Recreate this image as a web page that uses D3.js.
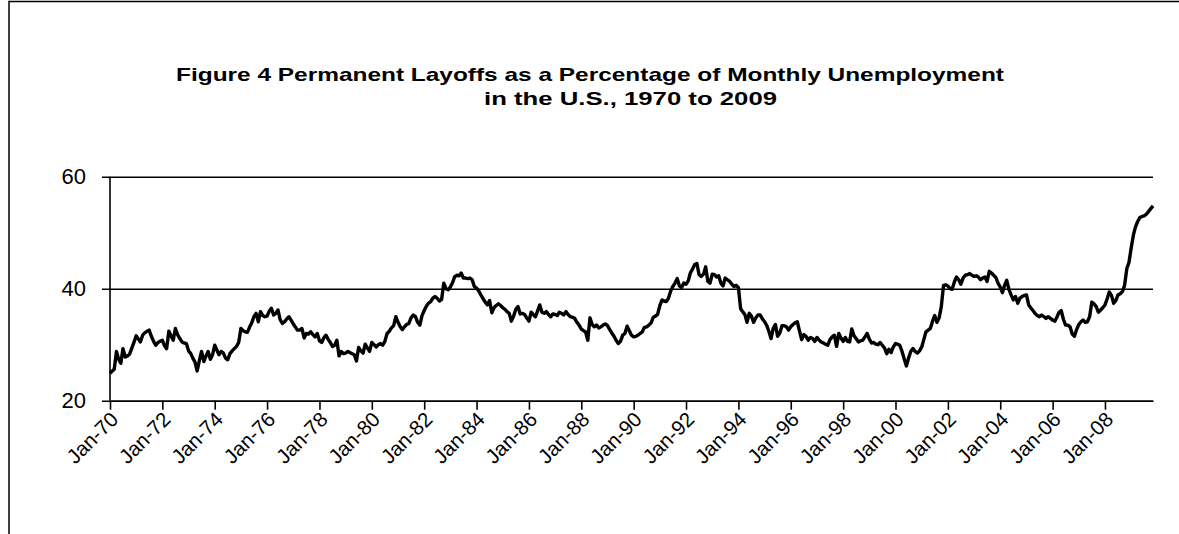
<!DOCTYPE html>
<html>
<head>
<meta charset="utf-8">
<script src="https://cdn.jsdelivr.net/npm/d3@7"></script>
<style>
  body { margin: 0; background: #fff; }
  svg { display: block; font-family: "Liberation Sans", Arial, sans-serif; }
</style>
</head>
<body>
<svg id="chart" width="1179" height="534"></svg>
<script>
// monthly share of permanent layoffs, Jan 1970 onwards
var y1970 = [24.9,25.3,25.6,28.8,27.4,26.7,29.3,27.8,28.0,28.3,29.4,30.4];
var y1971 = [31.6,31.0,30.5,31.7,32.1,32.4,32.6,31.5,30.6,29.9,30.4,30.6];
var y1972 = [30.8,29.8,29.3,32.4,31.6,30.8,32.9,31.8,31.1,30.5,30.3,30.2];
var y1973 = [28.9,28.4,27.6,26.9,25.3,27.2,28.8,27.0,28.0,28.8,27.4,28.2];
var y1974 = [29.9,29.0,28.2,28.8,28.5,27.6,27.3,28.4,28.9,29.3,29.7,30.4];
var y1975 = [32.9,32.5,32.3,32.2,33.1,33.9,35.0,35.6,34.1,35.9,35.2,35.0];
var y1976 = [35.1,36.0,36.5,35.3,35.6,36.2,34.5,33.8,34.1,34.6,35.0,34.4];
var y1977 = [33.7,33.1,32.6,32.6,32.9,31.2,32.0,31.9,32.3,31.8,31.4,32.0];
var y1978 = [30.7,30.4,31.2,31.7,31.0,30.4,29.7,29.9,30.8,28.0,28.8,28.4];
var y1979 = [28.5,28.8,28.6,28.4,28.2,27.1,29.5,28.9,28.5,30.1,29.4,28.8];
var y1980 = [30.4,30.0,29.6,30.0,30.2,29.9,30.6,32.0,32.4,33.0,33.4,35.0];
var y1981 = [34.0,33.2,32.7,33.2,33.6,33.8,34.8,35.3,35.0,34.0,33.5,35.2];
var y1982 = [36.1,36.9,37.4,37.7,38.3,38.6,38.3,37.8,38.1,41.0,40.0,39.8];
var y1983 = [40.3,41.1,42.1,42.4,42.3,42.8,41.9,41.9,41.8,41.9,41.6,40.4];
var y1984 = [40.1,39.6,38.9,38.2,37.6,37.1,37.9,35.7,36.6,37.0,37.3,37.0];
var y1985 = [36.6,36.3,35.9,35.6,34.2,35.1,36.3,36.8,35.5,35.6,35.4,34.8];
var y1986 = [34.2,35.8,35.4,35.0,36.0,37.1,35.8,35.6,35.9,35.4,35.0,35.5];
var y1987 = [35.4,35.2,35.8,35.6,35.3,35.9,35.4,35.0,34.9,34.7,34.0,33.5];
var y1988 = [32.8,32.5,32.3,30.8,34.8,33.6,33.2,33.5,33.0,33.2,33.5,33.7];
var y1989 = [33.4,32.7,32.1,31.5,30.8,30.2,30.6,31.7,32.0,33.3,32.5,31.7];
var y1990 = [31.4,31.5,31.7,32.0,32.3,33.1,33.2,33.5,33.9,34.9,35.1,35.4];
var y1991 = [37.0,38.0,37.8,37.7,38.3,39.6,40.4,41.0,41.8,40.5,40.2,41.0];
var y1992 = [40.8,41.4,42.8,43.5,44.3,44.5,42.5,42.2,42.6,43.9,41.3,41.0];
var y1993 = [42.6,42.5,42.1,42.3,41.0,40.5,41.9,41.6,41.3,40.8,40.4,40.6];
var y1994 = [40.2,36.4,35.9,35.4,34.0,35.6,35.1,34.0,34.8,35.3,35.3,34.6];
var y1995 = [34.1,33.4,32.4,31.1,32.9,33.6,31.5,32.1,33.4,33.4,33.2,32.6];
var y1996 = [33.2,33.6,33.9,34.1,32.5,30.9,31.8,31.5,30.8,31.3,31.1,30.6];
var y1997 = [31.3,30.8,30.5,30.3,30.1,29.9,30.9,31.4,31.7,29.7,32.0,31.2];
var y1998 = [30.6,31.3,30.6,30.5,32.8,31.6,31.1,30.5,30.7,30.8,31.4,32.0];
var y1999 = [31.0,30.3,30.4,30.1,30.0,30.4,29.9,29.4,28.4,29.2,28.6,29.6];
var y2000 = [30.2,30.1,29.9,28.8,27.5,26.2,27.6,28.8,29.3,28.8,28.5,28.9];
var y2001 = [29.6,31.0,32.3,32.6,32.9,34.2,35.2,34.0,34.8,36.8,40.6,40.7];
var y2002 = [40.5,40.0,39.9,41.2,42.1,41.6,40.8,41.9,42.4,42.5,42.7,42.4];
var y2003 = [42.2,42.3,42.1,41.6,41.9,42.1,41.3,43.1,42.8,42.4,42.0,41.0];
var y2004 = [40.3,39.3,40.6,41.5,39.9,38.9,38.0,38.6,37.4,38.3,38.6,38.8];
var y2005 = [38.9,37.1,36.6,36.1,35.6,35.2,35.0,35.3,35.0,34.7,35.0,34.7];
var y2006 = [34.4,34.2,34.9,35.8,36.1,34.5,33.5,33.5,33.2,31.9,31.5,32.7];
var y2007 = [33.6,34.1,34.4,34.0,34.1,35.0,37.6,37.3,36.8,35.8,36.2,36.6];
var y2008 = [37.1,38.2,39.4,38.8,37.4,37.9,38.9,39.1,39.5,40.6,43.6,44.7];
var y2009 = [47.3,49.6,51.0,52.0,52.7,52.9,53.0,53.3,53.8,54.3,54.8];

var yearRows = [y1970,y1971,y1972,y1973,y1974,y1975,y1976,y1977,y1978,y1979,
                y1980,y1981,y1982,y1983,y1984,y1985,y1986,y1987,y1988,y1989,
                y1990,y1991,y1992,y1993,y1994,y1995,y1996,y1997,y1998,y1999,
                y2000,y2001,y2002,y2003,y2004,y2005,y2006,y2007,y2008,y2009];

var yTicks = [20, 40, 60];
var titleLines = ["Figure 4  Permanent  Layoffs  as a Percentage  of  Monthly Unemployment",
                  "in the U.S., 1970  to  2009"];

var series = [];
yearRows.forEach(function(row, i) {
	row.forEach(function(v, m) {
		series.push({date: new Date(1970 + i, m, 1), value: v});
	});
});

var svg = d3.select("#chart");

// outer frame of the chart object
svg.append("path")
	.attr("d", "M9,540 L9,1.5 L1185,1.5")
	.attr("fill", "none")
	.attr("stroke", "#000")
	.attr("stroke-width", 1.5);

var plot = {left: 110, right: 1153, top: 176.7, bottom: 400.7};

var x = d3.scaleTime()
	.domain([series[0].date, series[series.length - 1].date])
	.range([plot.left, plot.right]);

var y = d3.scaleLinear()
	.domain([20, 60])
	.range([plot.bottom, plot.top]);

// title
svg.selectAll("text.title")
	.data(titleLines)
	.enter().append("text")
	.attr("class", "title")
	.attr("x", function(d, i) { return i === 0 ? 176 : 484; })
	.attr("y", function(d, i) { return i === 0 ? 81 : 105; })
	.attr("textLength", function(d, i) { return i === 0 ? 828 : 293; })
	.attr("lengthAdjust", "spacingAndGlyphs")
	.attr("font-size", 19)
	.attr("font-weight", "bold")
	.text(function(d) { return d; });

// horizontal gridlines + y axis
var yAxis = d3.axisLeft(y)
	.tickValues(yTicks)
	.tickSize(-(plot.right - plot.left))
	.tickPadding(24)
	.tickFormat(d3.format("d"));

var yG = svg.append("g")
	.attr("transform", "translate(" + plot.left + ",0)")
	.call(yAxis);
yG.select(".domain").remove();
yG.selectAll(".tick line")
	.attr("x1", -8)
	.attr("stroke", "#000")
	.attr("stroke-width", 1.6);
yG.selectAll(".tick text")
	.attr("font-size", 22)
	.attr("font-family", "Liberation Sans, Arial, sans-serif")
	.attr("fill", "#000");

svg.append("line")
	.attr("x1", plot.left).attr("x2", plot.left)
	.attr("y1", plot.top).attr("y2", plot.bottom)
	.attr("stroke", "#000")
	.attr("stroke-width", 1.6);

// x axis, ticks every second January
var xAxis = d3.axisBottom(x)
	.ticks(d3.timeYear.every(2))
	.tickSize(9)
	.tickSizeOuter(0)
	.tickFormat(d3.timeFormat("%b-%y"));

var xG = svg.append("g")
	.attr("transform", "translate(0," + plot.bottom + ")")
	.call(xAxis);
xG.select(".domain").attr("stroke", "#000").attr("stroke-width", 1.6);
xG.selectAll(".tick line").attr("stroke", "#000").attr("stroke-width", 1.6);
xG.selectAll(".tick text")
	.attr("font-size", 20.5)
	.attr("font-family", "Liberation Sans, Arial, sans-serif")
	.attr("fill", "#000")
	.attr("text-anchor", "end")
	.attr("dy", null)
	.attr("y", null)
	.attr("transform", "translate(9,20) rotate(-45)");

// the series
var line = d3.line()
	.x(function(d) { return x(d.date); })
	.y(function(d) { return y(d.value); });

svg.append("path")
	.datum(series)
	.attr("fill", "none")
	.attr("stroke", "#000")
	.attr("stroke-width", 3.4)
	.attr("stroke-linejoin", "round")
	.attr("d", line);
</script>
</body>
</html>
